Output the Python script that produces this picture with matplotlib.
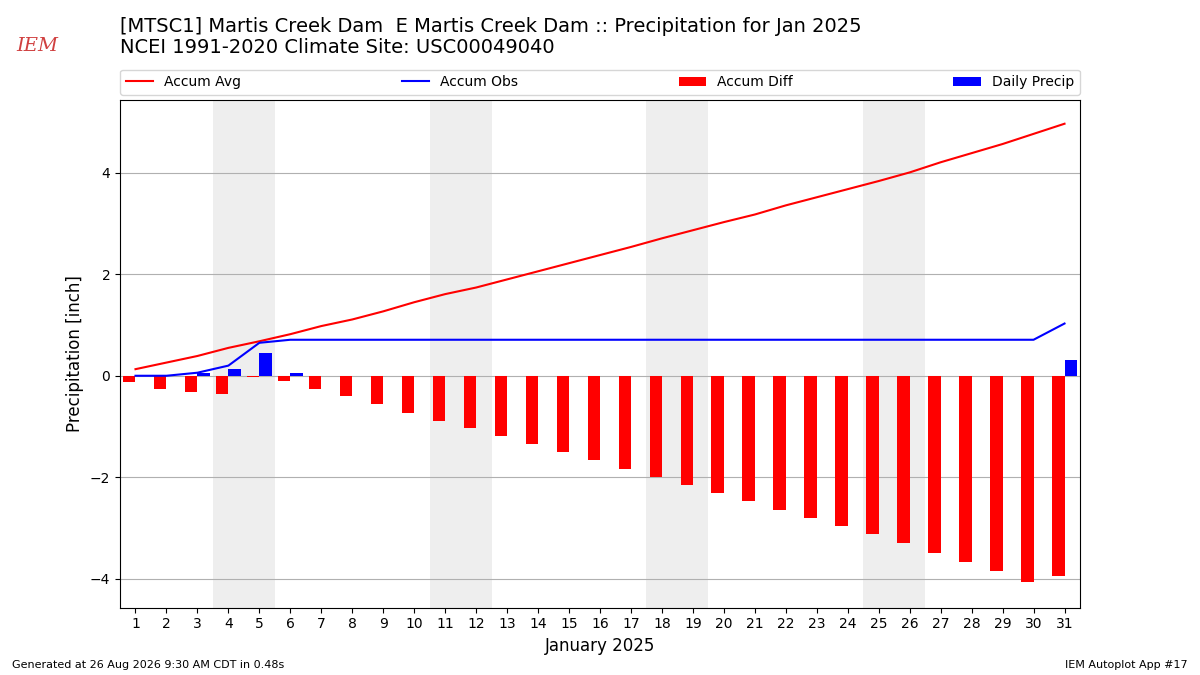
import numpy as np
import matplotlib
matplotlib.use("Agg")
import matplotlib.pyplot as plt

# Data (inches)
days = list(range(1, 32))
daily_precip = [0.00, 0.00, 0.06, 0.14, 0.45, 0.06, 0.00, 0.00, 0.00, 0.00,
                0.00, 0.00, 0.00, 0.00, 0.00, 0.00, 0.00, 0.00, 0.00, 0.00,
                0.00, 0.00, 0.00, 0.00, 0.00, 0.00, 0.00, 0.00, 0.00, 0.00,
                0.32]
accum_avg = [0.13, 0.26, 0.39, 0.55, 0.68, 0.82, 0.98, 1.11, 1.27, 1.45,
             1.61, 1.74, 1.90, 2.06, 2.22, 2.38, 2.54, 2.71, 2.87, 3.03,
             3.18, 3.36, 3.52, 3.68, 3.84, 4.01, 4.21, 4.39, 4.57, 4.77,
             4.97]
weekends = [(4, 5), (11, 12), (18, 19), (25, 26)]

accum_obs = np.cumsum(daily_precip)
accum_diff = accum_obs - np.array(accum_avg)

fig = plt.figure(figsize=(12, 6.75), dpi=100)
ax = fig.add_axes([0.1, 0.1, 0.8, 0.752])

# weekend shading
for d0, d1 in weekends:
    ax.axvspan(d0 - 0.5, d1 + 0.5, color="#eeeeee", zorder=0, lw=0)

ax.plot(days, accum_avg, color="r", lw=1.5, label="Accum Avg", zorder=3)
ax.plot(days, accum_obs, color="b", lw=1.5, label="Accum Obs", zorder=3)
ax.bar(days, accum_diff, width=-0.4, align="edge", color="r", label="Accum Diff", zorder=2)
ax.bar(days, daily_precip, width=0.4, align="edge", color="b", label="Daily Precip", zorder=2)

ax.set_xlim(0.5, 31.5)
ax.set_ylim(-4.57, 5.44)
ax.set_xticks(days)
ax.set_yticks([-4, -2, 0, 2, 4])
ax.grid(axis="y", color="#b0b0b0", lw=0.8)
ax.set_axisbelow(True)
ax.set_xlabel("January 2025", fontsize=12)
ax.set_ylabel("Precipitation [inch]", fontsize=12)

ax.legend(loc="lower left", bbox_to_anchor=(0, 1.01, 1, 0.1), ncol=4, mode="expand",
          borderaxespad=0, fontsize=10)

fig.text(0.1, 0.945, "[MTSC1] Martis Creek Dam  E Martis Creek Dam :: Precipitation for Jan 2025\n"
         "NCEI 1991-2020 Climate Site: USC00049040", fontsize=14, va="center", ha="left",
         linespacing=1.15)

# simple stand-in for the IEM logo
fig.text(0.031, 0.932, "IEM", color="#d04040", fontsize=14, style="italic",
         family="DejaVu Serif", va="center", ha="center")

fig.text(0.01, 0.01, "Generated at 26 Aug 2026 9:30 AM CDT in 0.48s", fontsize=8)
fig.text(0.99, 0.01, "IEM Autoplot App #17", fontsize=8, ha="right")

fig.savefig("out.png", dpi=100)
